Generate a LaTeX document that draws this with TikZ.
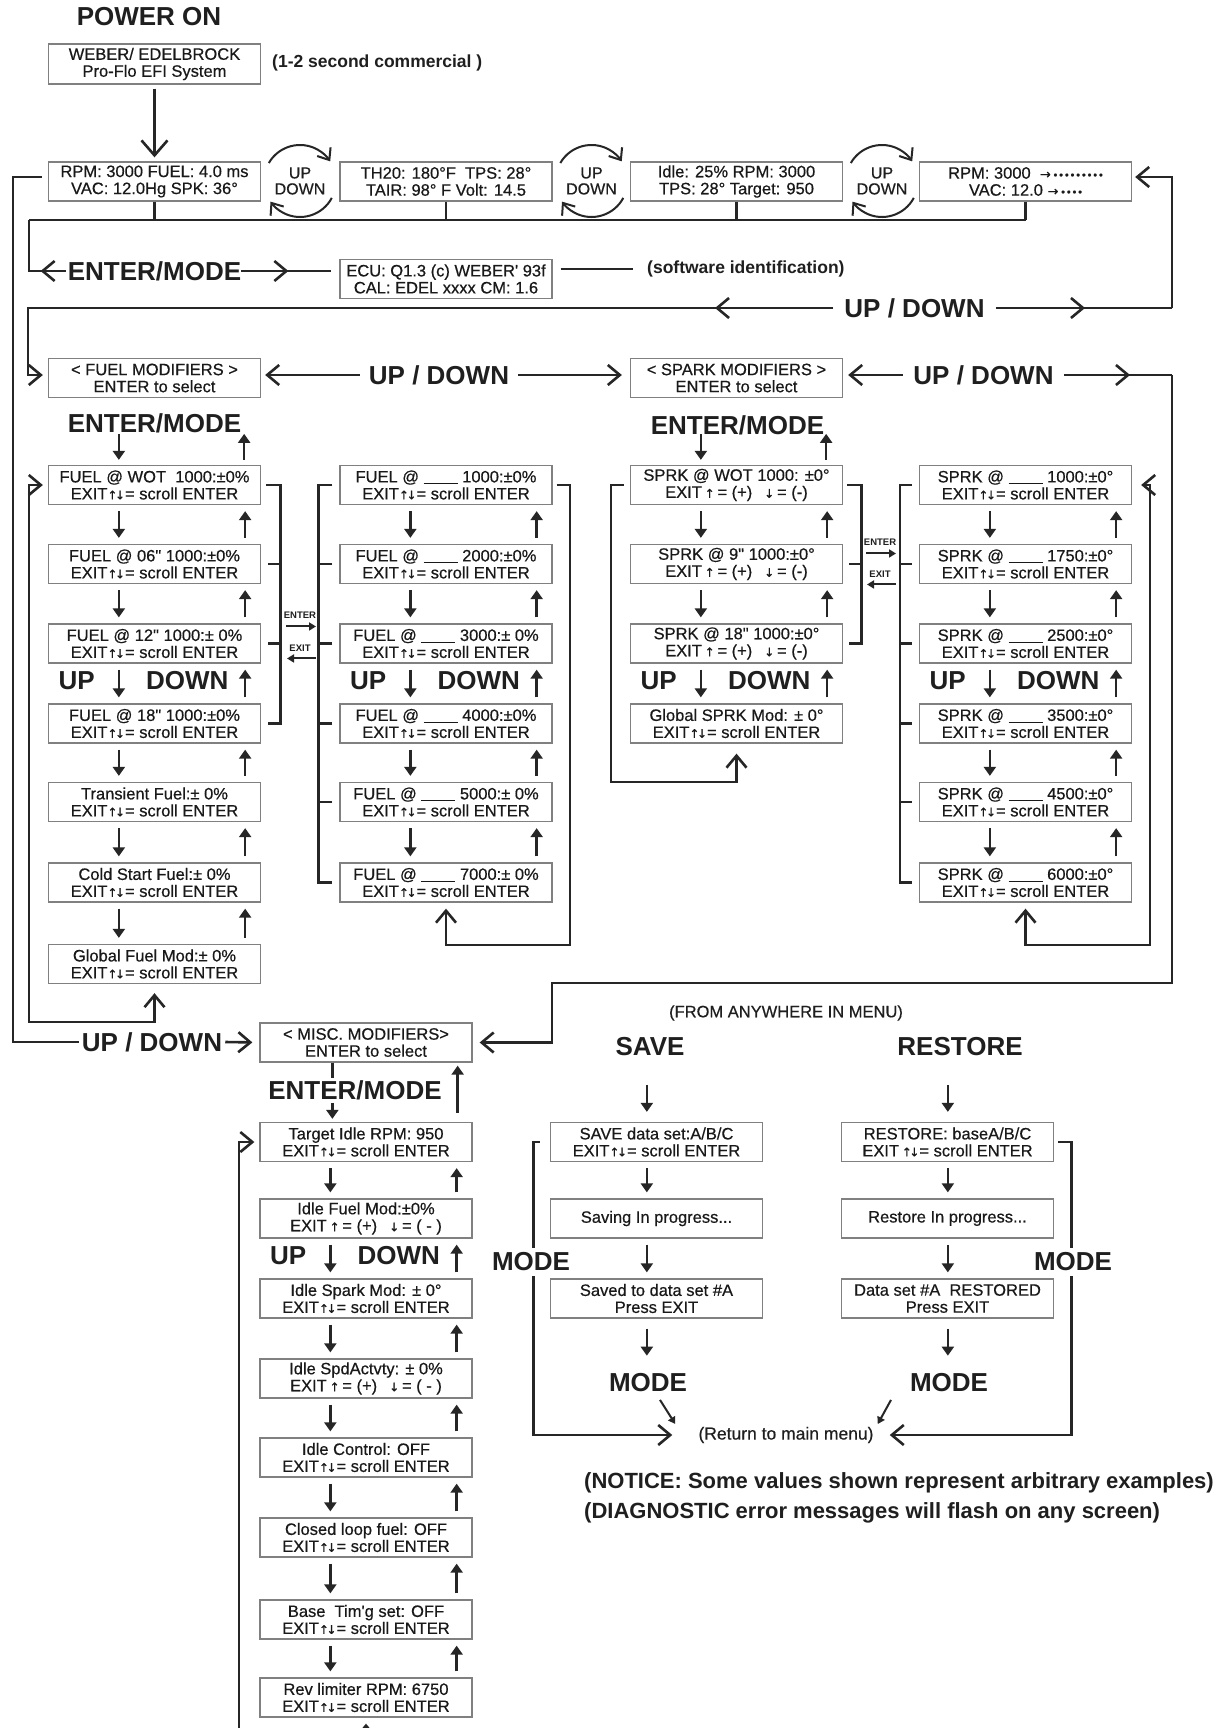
\documentclass[tikz,border=0pt]{standalone}
\usepackage{fontspec}
\setmainfont{Liberation Sans}
\newfontfamily\lcdfont{Liberation Sans}[FakeBold=0.5]
\newfontfamily\arrfont{DejaVu Sans}[FakeBold=0.4]
\usetikzlibrary{arrows.meta,calc}
\newcommand\myup{{\arrfont\fontsize{12}{12}\selectfont ↑}}
\newcommand\mydn{{\arrfont\fontsize{12}{12}\selectfont ↓}}
\newcommand\myud{{\arrfont\fontsize{12}{12}\selectfont ↑\kern-2.5pt↓}}
\newcommand\myra{{\arrfont\fontsize{13}{13}\selectfont →}}
\newcommand\exsc{EXIT\myud= scroll ENTER}
\newcommand\expm{EXIT\,\myup\,= (+)\hspace{12pt}\mydn\,= (-)}
\newcommand\blnk{\rule[-1.5pt]{34pt}{0.9pt}}
\newcommand\dotsa{{\fontsize{11}{11}\selectfont •\,•\,•\,•\,•\,•\,•\,•\,•}}
\newcommand\dotsb{{\fontsize{11}{11}\selectfont •\,•\,•\,•}}
\tikzset{
 lcd/.style={draw=black!50, line width=1.3pt, minimum width=212pt, minimum height=39pt, inner sep=0pt, align=center, text=black!90, font=\lcdfont\fontsize{16.5}{17}\selectfont},
 big/.style={inner sep=0pt, text=black!88, font=\fontsize{26}{26}\selectfont\bfseries},
 lbl/.style={inner sep=0pt, text=black!88},
 smlbl/.style={inner sep=0pt, text=black!88, font=\fontsize{9.5}{9.5}\selectfont\bfseries},
 conn/.style={line width=2.6pt, draw=black!85},
 oe/.style={-{Straight Barb[length=12pt,width=20pt]}},
 obe/.style={{Straight Barb[length=12pt,width=20pt]}-{Straight Barb[length=12pt,width=20pt]}},
 bigo/.style={-{Straight Barb[length=15pt,width=26pt]}},
 sa/.style={line width=2.4pt, draw=black!85, -{Triangle[length=9pt,width=12pt]}},
 ssa/.style={line width=2pt, draw=black!85, -{Triangle[length=7pt,width=8pt]}},
 circ/.style={line width=2pt, draw=black!85, -{Straight Barb[length=10pt,width=16pt]}},
}
\begin{document}
\begin{tikzpicture}[x=1pt,y=1pt]
\useasboundingbox (0,0) rectangle (1221,-1728);
\fill[white] (0,0) rectangle (1221,-1728);
\clip (0,0) rectangle (1221,-1728);

% ---------- top ----------
\node[big] (pon) at (149,-17) {POWER ON};
\node[lcd,minimum height=40pt] (web) at (154.5,-64) {WEBER/ EDELBROCK\\Pro-Flo EFI System};
\node[lbl,anchor=west,font=\fontsize{17.5}{17.5}\selectfont\bfseries] (com) at (272,-63) {(1-2 second commercial )};
\node[lcd] (t1) at (154.5,-181.5) {RPM: 3000 FUEL: 4.0 ms\\VAC: 12.0Hg SPK: 36°};
\node[lcd] (t2) at (446,-181.5) {TH20: 180°F\ \ TPS: 28°\\TAIR: 98°\ F Volt: 14.5};
\node[lcd] (t3) at (736.5,-181.5) {Idle: 25\% RPM: 3000\\TPS: 28° Target: 950};
\node[lcd] (t4) at (1025.5,-181.5) {RPM: 3000\ \ \myra\,\dotsa\\VAC: 12.0\ \myra\,\dotsb};
\draw[conn,bigo,shorten <=4pt,shorten >=4pt] (web) -- (t1);

\foreach \nm/\cx in {c1/300,c2/591.5,c3/882}{
 \node[lbl,align=center,font=\lcdfont\fontsize{16}{16}\selectfont] (\nm) at (\cx,-181) {UP\\DOWN};
 \draw[circ] ($(\nm.center)+(150:36)$) arc[start angle=150,end angle=33,radius=36];
 \draw[circ] ($(\nm.center)+(-28:36)$) arc[start angle=-28,end angle=-145,radius=36];
}

\coordinate (busL) at (29,-220);
\coordinate (busR) at (1025.5,-220);
\draw[conn] (busL) -- (busR);
\foreach \tn in {t1,t2,t3,t4} \draw[conn] (\tn.south) -- (\tn.south |- busL);

% ENTER/MODE row
\node[big] (em0) at (154.5,-271) {ENTER/MODE};
\node[lcd] (ecu) at (446,-279) {ECU: Q1.3 (c) WEBER' 93f\\CAL: EDEL xxxx CM: 1.6};
\node[lbl,anchor=west,font=\fontsize{17.5}{17.5}\selectfont\bfseries] (sw) at (647,-269) {(software identification)};
\draw[conn] (busL) |- ($(em0.west)+(-2,0)$);
\draw[conn,oe] ($(em0.west)+(-2,0)$) -- ($(em0.west)+(-27,0)$);
\draw[conn] (em0.east) -- ($(ecu.west |- em0.east)+(-8,0)$);
\draw[conn,oe] (em0.east) -- ($(em0.east)+(47,0)$);
\draw[conn] ($(ecu.east |- sw.west)+(8,0)$) -- ($(sw.west)+(-14,0)$);

% top UP/DOWN loop
\coordinate (tl) at (28,-308);
\coordinate (tr) at (1172,-308);
\node[lcd] (fm) at (154.5,-378) {< FUEL MODIFIERS >\\ENTER to select};
\node[lcd] (sm) at (736.5,-378) {< SPARK MODIFIERS >\\ENTER to select};
\draw[conn,oe,shorten >=3pt] (tr) |- ($(t4.east)+(0,4.5)$);
\draw[conn,oe,shorten >=5pt] (tr) -- (tl) |- ($(fm.west)+(0,3)$);
\node[big,fill=white,inner xsep=11pt,inner ysep=2pt] (ud0) at (914.5,-308) {UP / DOWN};
\draw[conn,oe] (ud0.west) -- (715,-308);
\draw[conn,oe] (ud0.east) -- (1085,-308);

% fuel <-> spark
\draw[conn,obe,shorten <=4pt,shorten >=8pt] ($(fm.east)+(0,3)$) -- ($(sm.west)+(0,3)$);
\node[big,fill=white,inner xsep=9pt,inner ysep=2pt] (udf) at (439,-375) {UP / DOWN};
\coordinate (sr) at (1172,-375);
\draw[conn,oe,shorten >=5pt] (sr) -- ($(sm.east)+(0,3)$);
\node[big,fill=white,inner xsep=10pt,inner ysep=2pt] (uds) at (983.5,-375) {UP / DOWN};
\draw[conn,oe] (uds.east) -- (1130,-375);

\node[big] (emf) at (154.5,-423) {ENTER/MODE};
\node[big] (ems) at (737.5,-425) {ENTER/MODE};

% fuel column A
\node[lcd] (fa1) at (154.5,-485) {FUEL @ WOT\ \ 1000:±0\%\\\exsc};
\node[lcd] (fa2) at (154.5,-564) {FUEL @ 06" 1000:±0\%\\\exsc};
\node[lcd] (fa3) at (154.5,-643.5) {FUEL @ 12" 1000:± 0\%\\\exsc};
\node[lcd] (fa4) at (154.5,-723.5) {FUEL @ 18" 1000:±0\%\\\exsc};
\node[lcd] (fa5) at (154.5,-802) {Transient Fuel:± 0\%\\\exsc};
\node[lcd] (fa6) at (154.5,-882.5) {Cold Start Fuel:± 0\%\\\exsc};
\node[lcd] (fa7) at (154.5,-964) {Global Fuel Mod:± 0\%\\\exsc};
% fuel column B
\node[lcd] (fb1) at (446,-485) {FUEL @ \blnk\ 1000:±0\%\\\exsc};
\node[lcd] (fb2) at (446,-564) {FUEL @ \blnk\ 2000:±0\%\\\exsc};
\node[lcd] (fb3) at (446,-643.5) {FUEL @ \blnk\ 3000:± 0\%\\\exsc};
\node[lcd] (fb4) at (446,-723.5) {FUEL @ \blnk\ 4000:±0\%\\\exsc};
\node[lcd] (fb5) at (446,-802) {FUEL @ \blnk\ 5000:± 0\%\\\exsc};
\node[lcd] (fb6) at (446,-882.5) {FUEL @ \blnk\ 7000:± 0\%\\\exsc};
% spark column C
\node[lcd] (sc1) at (736.5,-485) {SPRK @ WOT 1000: ±0°\\\expm};
\node[lcd] (sc2) at (736.5,-564) {SPRK @ 9" 1000:±0°\\\expm};
\node[lcd] (sc3) at (736.5,-643.5) {SPRK @ 18" 1000:±0°\\\expm};
\node[lcd] (sc4) at (736.5,-723.5) {Global SPRK Mod: ± 0°\\\exsc};
% spark column D
\node[lcd] (sd1) at (1025.5,-485) {SPRK @ \blnk\ 1000:±0°\\\exsc};
\node[lcd] (sd2) at (1025.5,-564) {SPRK @ \blnk\ 1750:±0°\\\exsc};
\node[lcd] (sd3) at (1025.5,-643.5) {SPRK @ \blnk\ 2500:±0°\\\exsc};
\node[lcd] (sd4) at (1025.5,-723.5) {SPRK @ \blnk\ 3500:±0°\\\exsc};
\node[lcd] (sd5) at (1025.5,-802) {SPRK @ \blnk\ 4500:±0°\\\exsc};
\node[lcd] (sd6) at (1025.5,-882.5) {SPRK @ \blnk\ 6000:±0°\\\exsc};

% ENTER/MODE arrows into first rows
\foreach \hd in {fa1,sc1}{
 \draw[sa] ($(\hd.north west)+(71,31)$) -- ($(\hd.north west)+(71,5)$);
 \draw[sa] ($(\hd.north east)+(-17,5)$) -- ($(\hd.north east)+(-17,31)$);
}

% misc column
\node[big] (ud3) at (152,-1042) {UP / DOWN};
\node[lcd] (mi) at (366,-1042.5) {< MISC. MODIFIERS>\\ENTER to select};
\node[big] (em3) at (355,-1090) {ENTER/MODE};
\node[lcd] (m1) at (366,-1142) {Target Idle RPM: 950\\\exsc};
\node[lcd] (m2) at (366,-1218.5) {Idle Fuel Mod:±0\%\\EXIT\,\myup\,= (+)\hspace{12pt}\mydn\,= ( - )};
\node[lcd] (m3) at (366,-1298.5) {Idle Spark Mod: ± 0°\\\exsc};
\node[lcd] (m4) at (366,-1378.5) {Idle SpdActvty: ± 0\%\\EXIT\,\myup\,= (+)\hspace{12pt}\mydn\,= ( - )};
\node[lcd] (m5) at (366,-1457.5) {Idle Control: OFF\\\exsc};
\node[lcd] (m6) at (366,-1537.5) {Closed loop fuel: OFF\\\exsc};
\node[lcd] (m7) at (366,-1619.5) {Base\ \ Tim'g set: OFF\\\exsc};
\node[lcd] (m8) at (366,-1697.5) {Rev limiter RPM: 6750\\\exsc};

% arrows between consecutive boxes
\foreach \pa/\pb in {fa1/fa2,fa2/fa3,fa3/fa4,fa4/fa5,fa5/fa6,fa6/fa7,
  fb1/fb2,fb2/fb3,fb3/fb4,fb4/fb5,fb5/fb6,
  sc1/sc2,sc2/sc3,sc3/sc4,
  sd1/sd2,sd2/sd3,sd3/sd4,sd4/sd5,sd5/sd6,
  m1/m2,m2/m3,m3/m4,m4/m5,m5/m6,m6/m7,m7/m8}{
 \draw[sa] ($(\pa.south west)+(71,-6)$) -- ($(\pb.north west)+(71,6)$);
 \draw[sa] ($(\pb.north east)+(-16,6)$) -- ($(\pa.south east)+(-16,-6)$);
}
% UP / DOWN labels
\foreach \pa/\pb in {fa3/fa4,fb3/fb4,sc3/sc4,sd3/sd4,m2/m3}{
 \node[big,anchor=east] at ($($(\pa.south west)!0.5!(\pb.north west)$)+(47,3)$) {UP};
 \node[big,anchor=west] at ($($(\pa.south west)!0.5!(\pb.north west)$)+(98,3)$) {DOWN};
}

% fuel A right bracket
\draw[conn] ($(fa1.east)+(5,0)$) -| ($(fa4.east)+(19.5,0)$) -- ($(fa4.east)+(7,0)$);
\foreach \bx in {fa2,fa3} \draw[conn] ($(\bx.east)+(7,0)$) -- ($(\bx.east)+(19.5,0)$);
% ENTER / EXIT between A and B
\node[smlbl] (en1) at (300,-615) {ENTER};
\draw[ssa] ($(en1.south)+(-14,-8)$) -- ($(en1.south)+(16,-8)$);
\node[smlbl] (ex1) at (300,-648) {EXIT};
\draw[ssa] ($(ex1.south)+(16,-7)$) -- ($(ex1.south)+(-13,-7)$);
% fuel B left bracket
\draw[conn] ($(fb1.west)+(-7,0)$) -| ($(fb6.west)+(-21,0)$) -- ($(fb6.west)+(-7,0)$);
\foreach \bx in {fb2,fb3,fb4,fb5} \draw[conn] ($(\bx.west)+(-7,0)$) -- ($(\bx.west)+(-21,0)$);
% fuel B right loop
\draw[conn,oe,shorten >=6pt] ($(fb1.east)+(4,0)$) -| (570,-945) -| (fb6.south);
% fuel A loop
\draw[conn,obe,shorten <=5pt,shorten >=9pt] (fa1.west) -| (29,-1022) -| (fa7.south);

% spark C right bracket
\draw[conn] ($(sc1.east)+(4,0)$) -| ($(sc3.east)+(18.5,0)$) -- ($(sc3.east)+(6,0)$);
\draw[conn] ($(sc2.east)+(6,0)$) -- ($(sc2.east)+(18.5,0)$);
% spark C left loop
\draw[conn,oe,shorten >=10pt] ($(sc1.west)+(-6,0)$) -| (611,-782) -| (sc4.south);
% ENTER / EXIT between C and D
\node[smlbl] (en2) at (880,-542) {ENTER};
\draw[ssa] ($(en2.south)+(-14,-8)$) -- ($(en2.south)+(16,-8)$);
\node[smlbl] (ex2) at (880,-574) {EXIT};
\draw[ssa] ($(ex2.south)+(16,-7)$) -- ($(ex2.south)+(-13,-7)$);
% spark D left bracket
\draw[conn] ($(sd1.west)+(-7,0)$) -| ($(sd6.west)+(-19,0)$) -- ($(sd6.west)+(-7,0)$);
\foreach \bx in {sd2,sd3,sd4,sd5} \draw[conn] ($(\bx.west)+(-7,0)$) -- ($(\bx.west)+(-19,0)$);
% spark D right loop
\draw[conn,obe,shorten <=9pt,shorten >=6pt] (sd1.east) -| (1150,-945) -| (sd6.south);

% spark right -> misc
\draw[conn,oe,shorten >=7pt] (sr) |- (552,-983) |- (mi.east);
% far left line -> misc
\draw[conn,shorten <=6pt] ($(t1.west)+(0,4.5)$) -| (13,-1042) -- ($(ud3.west)+(-3,0)$);
\draw[conn,oe,shorten >=7pt] ($(ud3.east)+(3,0)$) -- (mi.west);

% misc enter/mode
\draw[line width=2.4pt,draw=black!85] ($(mi.south west)+(73,0)$) -- ++(0,-15);
\draw[sa] ($(m1.north west)+(73,19)$) -- ($(m1.north west)+(73,3)$);
\draw[sa] ($(m1.north east)+(-15,9)$) -- ($(mi.south east)+(-15,-3)$);
% misc loop
\draw[conn,obe,shorten <=6pt,shorten >=5pt] (m8.south) |- (239,-1760) |- (m1.west);

% ---------- save / restore ----------
\node[lbl,font=\lcdfont\fontsize{16.5}{16.5}\selectfont] (fam) at (786,-1013) {(FROM ANYWHERE IN MENU)};
\node[big] (sv) at (650,-1047) {SAVE};
\node[big] (rs) at (960,-1047) {RESTORE};
\node[lcd] (s1) at (656.5,-1142) {SAVE data set:A/B/C\\\exsc};
\node[lcd] (s2) at (656.5,-1218.5) {Saving In progress...};
\node[lcd] (s3) at (656.5,-1298.5) {Saved to data set \#A\\Press EXIT};
\node[lcd] (r1) at (947.5,-1142) {RESTORE: baseA/B/C\\EXIT\,\myud= scroll ENTER};
\node[lcd] (r2) at (947.5,-1218.5) {Restore In progress...};
\node[lcd] (r3) at (947.5,-1298.5) {Data set \#A\ \ RESTORED\\Press EXIT};
\draw[sa] ($(s1.north west)+(97,37)$) -- ($(s1.north west)+(97,10)$);
\draw[sa] ($(r1.north west)+(107,37)$) -- ($(r1.north west)+(107,10)$);
\foreach \pa/\pb in {s1/s2,s2/s3}
 \draw[sa] ($(\pa.south west)+(97,-6)$) -- ($(\pb.north west)+(97,6)$);
\foreach \pa/\pb in {r1/r2,r2/r3}
 \draw[sa] ($(\pa.south west)+(107,-6)$) -- ($(\pb.north west)+(107,6)$);
\draw[sa] ($(s3.south west)+(97,-10)$) -- ($(s3.south west)+(97,-37)$);
\draw[sa] ($(r3.south west)+(107,-10)$) -- ($(r3.south west)+(107,-37)$);
\node[big] (mb1) at (648,-1383) {MODE};
\node[big] (mb2) at (949,-1383) {MODE};
\node[lbl,font=\lcdfont\fontsize{17.5}{17.5}\selectfont] (ret) at (786,-1435) {(Return to main menu)};
\draw[ssa] ($(mb1.south)+(12,-7.5)$) -- ($(ret.west)+(-23,11)$);
\draw[ssa] ($(mb2.south)+(-58,-7.5)$) -- ($(ret.east)+(4,11)$);
\draw[conn,oe] ($(s1.west)+(-10,0)$) -| ($(ret.west)+(-165,0)$) -- ($(ret.west)+(-26,0)$);
\draw[conn,oe] ($(r1.east)+(4,0)$) -| ($(ret.east)+(198,0)$) -- ($(ret.east)+(16,0)$);
\node[big,fill=white,inner ysep=5pt] (ml) at (531,-1262) {MODE};
\node[big,fill=white,inner ysep=5pt] (mr) at (1073,-1262) {MODE};

\node[lbl,anchor=west,font=\fontsize{22}{22}\selectfont\bfseries] (n1) at (584,-1483) {(NOTICE: Some values shown represent arbitrary examples)};
\node[lbl,anchor=west,font=\fontsize{22}{22}\selectfont\bfseries] (n2) at (584,-1513) {(DIAGNOSTIC error messages will flash on any screen)};
\end{tikzpicture}
\end{document}
